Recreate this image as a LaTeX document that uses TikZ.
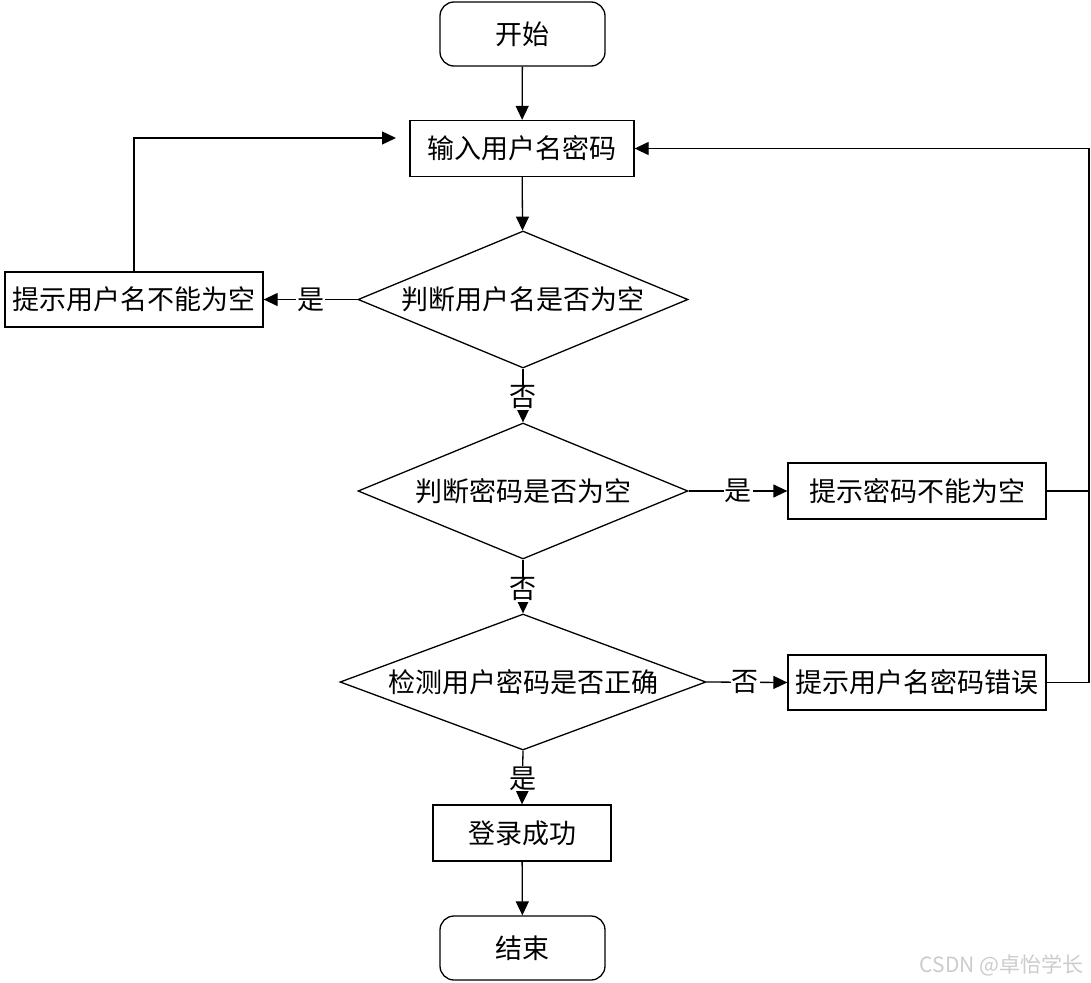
\documentclass[tikz,border=0pt]{standalone}
\usepackage{fontspec}
\newfontfamily\cjk{Noto Sans CJK SC}
\usetikzlibrary{shapes.geometric,arrows.meta}
\tikzset{
  every node/.style={font=\cjk\fontsize{27}{32}\selectfont},
  base/.style={draw=black, line width=1.3pt, inner sep=0pt},
  term/.style={base, rounded corners=14pt, minimum width=165pt, minimum height=64pt},
  proc/.style={base, rectangle, minimum height=56pt},
  dec/.style={base, diamond, inner sep=0pt},
  lbl/.style={fill=white, inner sep=1pt},
  arr/.style={line width=1.3pt, -{Triangle[length=14pt,width=13pt]}},
  ln/.style={line width=1.3pt},
}
\begin{document}
\begin{tikzpicture}[x=1pt,y=-1pt]
\useasboundingbox (0,0) rectangle (1091,982);
\fill[white] (0,0) rectangle (1091,982);
\node[term] (start) at (522.5,34) {开始};
\node[proc, minimum width=224pt] (input) at (522,148.5) {输入用户名密码};
\node[dec, minimum width=330pt, minimum height=137pt] (d1) at (523,299.5) {\makebox[0pt]{判断用户名是否为空}};
\node[proc, minimum width=258pt, minimum height=55pt] (warn1) at (134,299.5) {提示用户名不能为空};
\node[dec, minimum width=330pt, minimum height=136pt] (d2) at (523,491) {\makebox[0pt]{判断密码是否为空}};
\node[proc, minimum width=258pt] (warn2) at (917,491) {提示密码不能为空};
\node[dec, minimum width=366pt, minimum height=136pt] (d3) at (523,682) {\makebox[0pt]{检测用户密码是否正确}};
\node[proc, minimum width=258pt, minimum height=55pt] (warn3) at (917,682.5) {提示用户名密码错误};
\node[proc, minimum width=178pt] (ok) at (522,833) {登录成功};
\node[term] (end) at (522.5,948) {结束};
\coordinate (c1) at (396,138);
\coordinate (rt) at (1089,148.5);

\draw[arr] (start) -- (input);
\draw[arr] (input) -- (d1);
\draw[arr] (d1.west) -- node[lbl]{是} (warn1.east);
\draw[arr] (warn1.north) |- (c1);
\draw[arr] (d1.south) -- node[lbl, yshift=-2pt]{否} (d2.north);
\draw[arr] (d2.east) -- node[lbl]{是} (warn2.west);
\draw[ln] (warn2.east) -- (warn2.east -| rt);
\draw[arr] (warn3.east) -| (rt) -- (input.east);
\draw[arr] (d2.south) -- node[lbl, yshift=-3pt]{否} (d3.north);
\draw[arr] (d3.east) -- node[lbl, xshift=-2pt]{否} (warn3.west);
\draw[arr] (d3.south) -- node[lbl, yshift=-1pt]{是} (ok.north);
\draw[arr] (ok) -- (end);
\node[anchor=east, text=black!20, font=\cjk\fontsize{21}{24}\selectfont] (wm) at (1087,965) {CSDN @卓怡学长};
\end{tikzpicture}
\end{document}
